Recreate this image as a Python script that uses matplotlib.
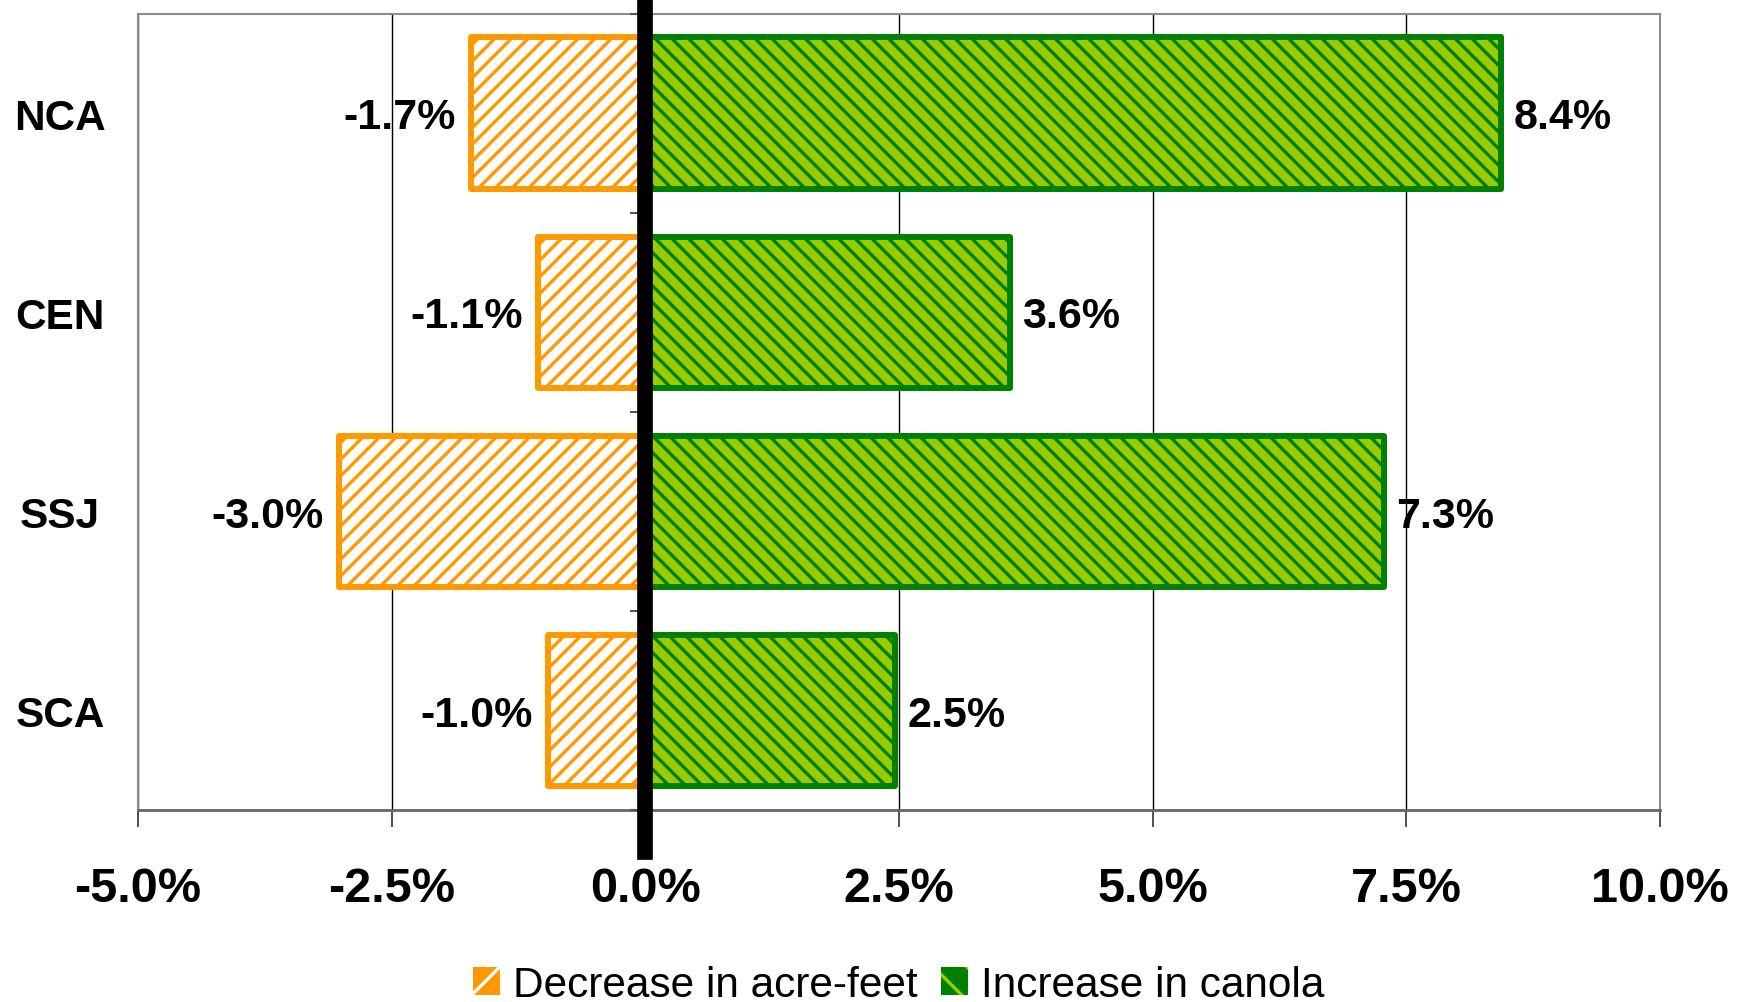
import matplotlib
matplotlib.use("Agg")
import matplotlib.pyplot as plt
import numpy as np
from matplotlib.patches import Patch

# ---- data ----
regions = ["NCA", "CEN", "SSJ", "SCA"]
decrease_acre_feet = [-1.72, -1.06, -3.02, -0.96]
increase_canola = [8.43, 3.59, 7.28, 2.46]
x_ticks = [-5.0, -2.5, 0.0, 2.5, 5.0, 7.5, 10.0]
series_names = ["Decrease in acre-feet", "Increase in canola"]

ORANGE = "#FF9900"
LIGHT_GREEN = "#99CC00"
DARK_GREEN = "#008000"

plt.rcParams["font.family"] = ["Liberation Sans", "DejaVu Sans"]
plt.rcParams["hatch.linewidth"] = 2.4

fig = plt.figure(figsize=(17.45, 10.03), dpi=100)
ax = fig.add_axes([0.0791, 0.1914, 0.9513 - 0.0791, 0.9855 - 0.1914])

y = np.arange(len(regions))
bar_h = 0.76

b1 = ax.barh(y, decrease_acre_feet, height=bar_h, color="white", edgecolor=ORANGE,
             hatch="//", linewidth=4.3, zorder=3)
b2 = ax.barh(y, increase_canola, height=bar_h, color=LIGHT_GREEN, edgecolor=DARK_GREEN,
             hatch="\\\\", linewidth=4.3, zorder=3)
for p in list(b1) + list(b2):
    p.set_joinstyle("round")

# value labels
for yi, v in zip(y, decrease_acre_feet):
    ax.annotate(f"{v:.1f}%", (v, yi), xytext=(-11, -3), textcoords="offset points",
                ha="right", va="center", fontsize=31, fontweight="bold")
for yi, v in zip(y, increase_canola):
    ax.annotate(f"{v:.1f}%", (v, yi), xytext=(9, -3), textcoords="offset points",
                ha="left", va="center", fontsize=31, fontweight="bold")

ax.set_xlim(x_ticks[0], x_ticks[-1])
ax.set_ylim(len(regions) - 0.5, -0.5)

ax.set_xticks(x_ticks)
ax.set_xticklabels([f"{t:.1f}%" for t in x_ticks], fontsize=35, fontweight="bold")
ax.set_yticks(y)
ax.set_yticklabels(regions, fontsize=30.5, fontweight="bold", ha="center")
ax.tick_params(axis="y", length=0, pad=56)
ax.tick_params(axis="x", length=12, width=1.2, color="#333333", pad=28)

ax.grid(axis="x", color="black", linewidth=1.0, zorder=0)
ax.set_axisbelow(True)
for side in ["left", "top", "right"]:
    ax.spines[side].set_color("#8c8c8c")
    ax.spines[side].set_linewidth(1.5)
ax.spines["bottom"].set_color("#666666")
ax.spines["bottom"].set_linewidth(2.0)

# category boundary ticks on the zero axis
bounds = np.arange(len(regions) + 1) - 0.5
ax.plot(np.zeros(len(bounds)), bounds, ls="none", marker=0, ms=11, mew=1.5,
        color="#555555", clip_on=False, zorder=4)

# thick zero axis line
ax.axvline(0, ymin=-0.053, ymax=1.012, color="black", linewidth=11.3,
           clip_on=False, zorder=5)

handles = [
    Patch(facecolor=ORANGE, edgecolor="white", hatch="/", linewidth=0),
    Patch(facecolor=DARK_GREEN, edgecolor=LIGHT_GREEN, hatch="\\", linewidth=0),
]
fig.legend(handles, series_names, loc="center", bbox_to_anchor=(0.515, 0.017),
           ncol=2, frameon=False, fontsize=30.5, handlelength=0.64, handleheight=0.64,
           handletextpad=0.3, columnspacing=0.55, borderpad=0.1)

fig.savefig("out.png", dpi=100)
